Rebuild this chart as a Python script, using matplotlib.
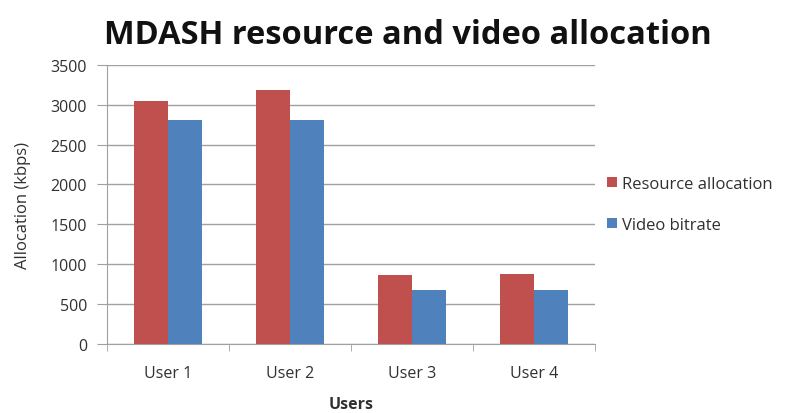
import numpy as np
import matplotlib.pyplot as plt

plt.rcParams['font.family'] = ['Open Sans', 'DejaVu Sans']

users = ['User 1', 'User 2', 'User 3', 'User 4']
resource_alloc = [3050, 3190, 860, 880]
video_bitrate = [2810, 2810, 670, 670]

red = '#C0504D'
blue = '#4F81BD'
grey = '#A0A0A0'
txt = '#303030'

fig = plt.figure(figsize=(7.9, 4.14), dpi=100)
ax = fig.add_axes([0.135, 0.167, 0.618, 0.674])

x = np.arange(len(users))
w = 0.28
ax.bar(x - w / 2, resource_alloc, w, color=red, label='Resource allocation', zorder=3)
ax.bar(x + w / 2, video_bitrate, w, color=blue, label='Video bitrate', zorder=3)

ax.set_xlim(-0.5, len(users) - 0.5)
ax.set_ylim(0, 3500)
ax.set_yticks(np.arange(0, 3501, 500))
ax.yaxis.grid(True, color=grey, linewidth=1, zorder=0)

ax.set_xticks(x)
ax.set_xticklabels(users)
ax.set_xticks(np.arange(-0.5, len(users), 1), minor=True)
ax.tick_params(axis='x', which='major', length=0, pad=15, labelsize=11.5, labelcolor=txt)
ax.tick_params(axis='x', which='minor', length=5, color=grey, direction='out')
ax.tick_params(axis='y', length=7, color=grey, labelsize=11.5, pad=7, labelcolor=txt)

for s in ['top', 'right']:
    ax.spines[s].set_visible(False)
for s in ['left', 'bottom']:
    ax.spines[s].set_color(grey)

ax.set_ylabel('Allocation (kbps)', fontsize=12, labelpad=14, color=txt)
ax.set_xlabel('Users', fontsize=11.5, fontweight='bold', labelpad=11, color=txt)

fig.suptitle('MDASH resource and video allocation', fontsize=23.5, fontweight='bold',
             x=0.516, y=0.955, color='#111111')

ax.legend(loc='center left', bbox_to_anchor=(0.995, 0.5), frameon=False,
          fontsize=12, handlelength=0.55, handleheight=0.55, handletextpad=0.35,
          labelspacing=1.5, labelcolor=txt)

fig.savefig('out.png', dpi=100)
